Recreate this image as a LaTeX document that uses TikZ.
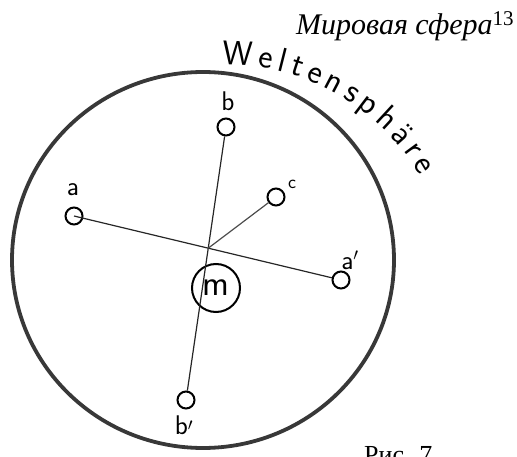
\documentclass[tikz,border=0pt]{standalone}
\usepackage{fontspec}
\setmainfont{Liberation Serif}
\usetikzlibrary{decorations.text}

\begin{document}
\begin{tikzpicture}[x=1pt, y=-1pt,
    planet/.style={draw, circle, line width=2pt, minimum size=17pt, inner sep=0pt},
    lbl/.style={inner sep=0pt, font=\sffamily\fontsize{27}{27}\selectfont},
    ray/.style={line width=1.2pt, black!85}]
    \useasboundingbox (0,0) rectangle (517,457);

    % title
    \node[anchor=base west, inner sep=0pt, font=\itshape\fontsize{30}{30}\selectfont]
        (title) at (296,35) {Мировая сфера\textsuperscript{\upshape 13}};

    % world sphere
    \draw[line width=3.8pt, black!78] (203,260) ellipse [x radius=191, y radius=188];
    \path[decorate, decoration={text along path, text align=fit to path,
        text={|\sffamily\fontsize{34}{34}\selectfont|Weltensphäre}}]
        (222,65) .. controls (305,62) and (385,112) .. (420,176);

    % bodies
    \node[planet] (nA) at (74,216) {};
    \node[lbl] (la) at (73,190) {a};
    \node[planet] (nAone) at (341,280) {};
    \node[lbl] (laone) at (350,260) {a$'$};
    \node[planet] (nB) at (226,127) {};
    \node[lbl] (lb) at (228,101) {b};
    \node[planet] (nBone) at (186,400) {};
    \node[lbl] (lbone) at (184,428) {b\raisebox{-5pt}{$'$}};
    \node[planet] (nC) at (276,197) {};
    \node[lbl, font=\sffamily\fontsize{19}{19}\selectfont] (lc) at (292,184) {c};
    \node[draw, circle, line width=2pt, minimum size=48pt, inner sep=0pt,
        font=\sffamily\fontsize{36}{36}\selectfont] (nM) at (216,288) {m};

    % rays
    \draw[ray] (nA.center) -- (nAone);
    \draw[ray] (nB) -- (nBone);
    \coordinate (cross) at (intersection of nA--nAone and nB--nBone);
    \draw[ray, black!70] (cross) -- (nC);

    % caption
    \node[anchor=base west, inner sep=0pt, font=\fontsize{26}{26}\selectfont]
        (fig) at (364,463) {Рис. 7};
\end{tikzpicture}
\end{document}
